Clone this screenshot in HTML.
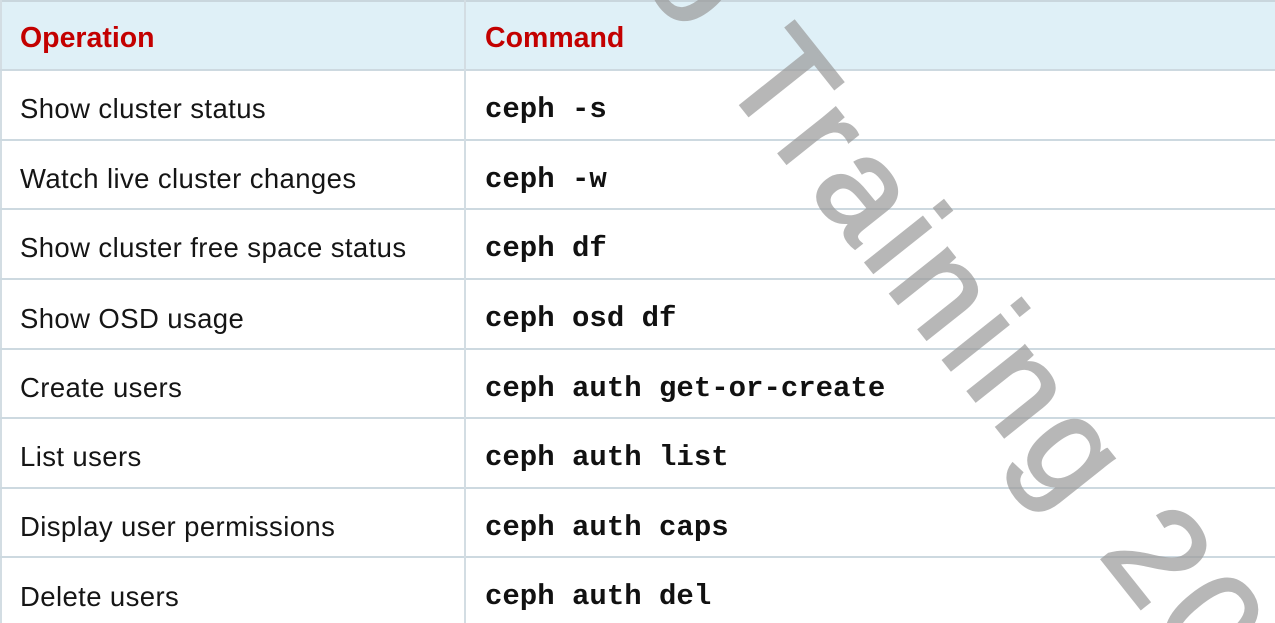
<!DOCTYPE html>
<html><head><style>
html,body{margin:0;padding:0;background:#fff;overflow:hidden;width:1275px;height:623px;}
#w{position:relative;width:1275px;height:623px;overflow:hidden;}
.row{position:absolute;left:0;width:1275px;border-top:2px solid #cdd9e0;box-sizing:border-box;}
.op{position:absolute;left:20px;font-family:"Liberation Sans",sans-serif;font-size:27.5px;color:#151515;letter-spacing:0.4px;}
.cmd{position:absolute;left:485px;font-family:"Liberation Mono",monospace;font-weight:bold;font-size:29px;color:#111;}
.hd{position:absolute;font-family:"Liberation Sans",sans-serif;font-weight:bold;font-size:28.5px;color:#c30000;}
</style></head><body><div id="w">
<div style="position:absolute;left:0;top:0;width:1275px;height:70px;background:#dff0f7;border-top:2px solid #c9d6dd;box-sizing:border-box"></div>
<div style="position:absolute;left:0;top:0;width:2px;height:623px;background:#d3dde3"></div>
<div class="hd" style="left:20px;top:22px">Operation</div>
<div class="hd" style="left:485px;top:22px">Command</div>

<div class="row" style="top:69px;height:70px"><span class="op" style="top:22px">Show cluster status</span><span class="cmd" style="top:22px">ceph -s</span></div>
<div class="row" style="top:139px;height:70px"><span class="op" style="top:22px">Watch live cluster changes</span><span class="cmd" style="top:22px">ceph -w</span></div>
<div class="row" style="top:208px;height:70px"><span class="op" style="top:22px">Show cluster free space status</span><span class="cmd" style="top:22px">ceph df</span></div>
<div class="row" style="top:278px;height:70px"><span class="op" style="top:23px">Show OSD usage</span><span class="cmd" style="top:22px">ceph osd df</span></div>
<div class="row" style="top:348px;height:70px"><span class="op" style="top:22px">Create users</span><span class="cmd" style="top:22px">ceph auth get-or-create</span></div>
<div class="row" style="top:417px;height:70px"><span class="op" style="top:22px">List users</span><span class="cmd" style="top:22px">ceph auth list</span></div>
<div class="row" style="top:487px;height:54px"><span class="op" style="top:22px">Display user permissions</span><span class="cmd" style="top:22px">ceph auth caps</span></div>
<div class="row" style="top:556px;height:67px"><span class="op" style="top:23px">Delete users</span><span class="cmd" style="top:22px">ceph auth del</span></div>
<div style="position:absolute;left:464px;top:0;width:2px;height:623px;background:#d3dde3"></div>

<svg width="1275" height="623" style="position:absolute;left:0;top:0;overflow:hidden">
<g opacity="0.7">
<text x="638" y="-24" transform="rotate(51.5 638 -24)" font-family="Liberation Sans, sans-serif" font-size="137" letter-spacing="9" fill="#9a9a9a" stroke="#9a9a9a" stroke-width="3">o Training 20</text>
</g>
</svg>
</div></body></html>
